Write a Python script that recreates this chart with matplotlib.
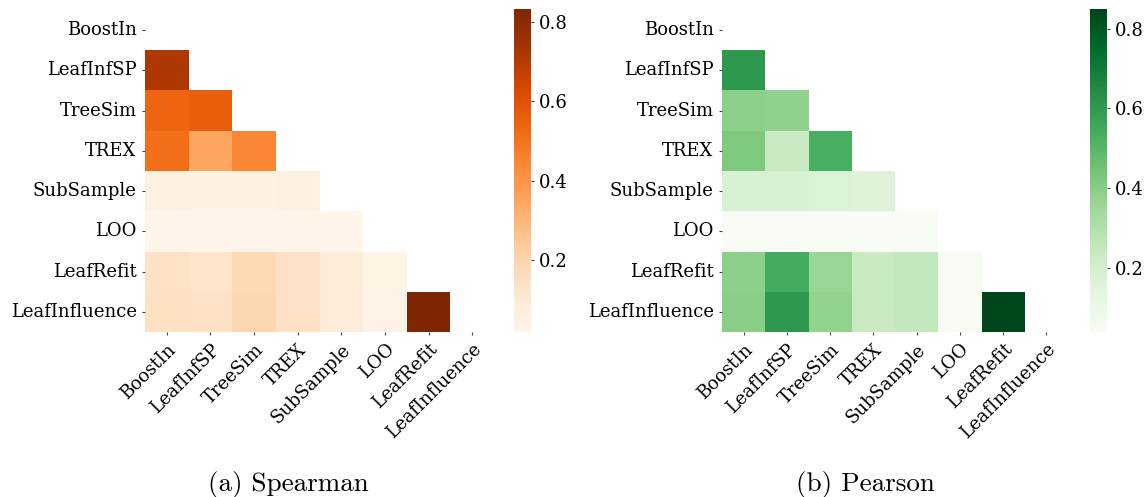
import numpy as np
import matplotlib
matplotlib.use("Agg")
import matplotlib.pyplot as plt
import seaborn as sns
from matplotlib import rcParams

rcParams.update({"font.family": "serif", "font.serif": ["DejaVu Serif"],
                 "font.size": 13})

methods = ['BoostIn', 'LeafInfSP', 'TreeSim', 'TREX', 'SubSample', 'LOO',
           'LeafRefit', 'LeafInfluence']

# lower triangle rows (row i has i values: correlation with methods[0..i-1])
spearman_rows = [
    [],
    [0.717],
    [0.540, 0.560],
    [0.510, 0.347, 0.446],
    [0.052, 0.050, 0.050, 0.052],
    [0.020, 0.020, 0.020, 0.020, 0.022],
    [0.142, 0.126, 0.183, 0.138, 0.085, 0.036],
    [0.150, 0.142, 0.190, 0.140, 0.085, 0.034, 0.832],
]
pearson_rows = [
    [],
    [0.604],
    [0.390, 0.383],
    [0.420, 0.236, 0.530],
    [0.180, 0.183, 0.170, 0.163],
    [0.040, 0.040, 0.040, 0.040, 0.048],
    [0.390, 0.540, 0.360, 0.236, 0.250, 0.044],
    [0.395, 0.604, 0.375, 0.240, 0.250, 0.044, 0.849],
]
captions = ['(a) Spearman', '(b) Pearson']
cmaps = ['Oranges', 'Greens']


def full_matrix(rows):
    n = len(methods)
    m = np.zeros((n, n))
    for i, r in enumerate(rows):
        for j, v in enumerate(r):
            m[i, j] = v
            m[j, i] = v
    return m


W, H = 1148, 497
fig = plt.figure(figsize=(W / 100, H / 100), dpi=100)

heat_pos = [(145, 349), (722, 346)]
cbar_x = [514, 1090]
top, bottom = 10, 332
cap_x = [288, 865]

mask = np.triu(np.ones((len(methods), len(methods)), dtype=bool), k=0)

for k, rows in enumerate([spearman_rows, pearson_rows]):
    x0, w = heat_pos[k]
    ax = fig.add_axes([x0 / W, (H - bottom) / H, w / W, (bottom - top) / H])
    cax = fig.add_axes([cbar_x[k] / W, (H - bottom) / H, 17 / W,
                        (bottom - top + 1) / H])
    sns.heatmap(full_matrix(rows), mask=mask, cmap=cmaps[k], ax=ax,
                cbar_ax=cax, xticklabels=methods, yticklabels=methods)
    ax.set_xticklabels(methods, rotation=45, ha='right',
                       rotation_mode='anchor')
    ax.set_yticklabels(methods, rotation=0)
    ax.tick_params(length=2.5, width=0.8, color='#444444', labelsize=13)
    cax.tick_params(length=2.5, width=0.8, color='#444444', labelsize=13)
    cax.set_yticks([0.2, 0.4, 0.6, 0.8])
    fig.text(cap_x[k] / W, 1 - 484 / H, captions[k], family='cmr10',
             fontsize=19.5, ha='center', va='center')

plt.savefig('out.png', dpi=100)
